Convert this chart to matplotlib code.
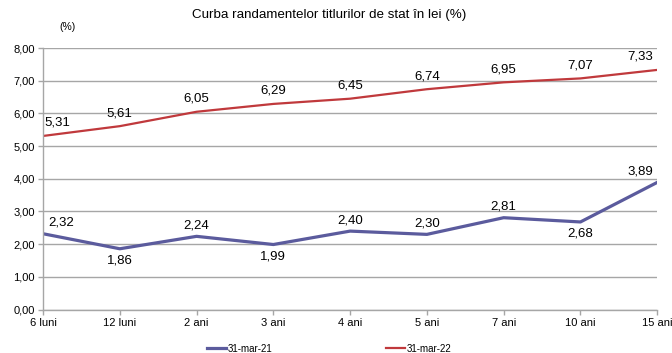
import numpy as np
import matplotlib.pyplot as plt

plt.rcParams['font.family'] = ['Liberation Sans', 'DejaVu Sans']

categories = ['6 luni', '12 luni', '2 ani', '3 ani', '4 ani', '5 ani', '7 ani', '10 ani', '15 ani']
yields_21 = [2.32, 1.86, 2.24, 1.99, 2.40, 2.30, 2.81, 2.68, 3.89]
yields_22 = [5.31, 5.61, 6.05, 6.29, 6.45, 6.74, 6.95, 7.07, 7.33]
# label below the point (True) or above (False) for the 2021 series
below_21 = [False, True, False, True, False, False, False, True, False]

col_21 = '#5b5b9d'
col_22 = '#c0393c'


def fmt(v):
    return '{:.2f}'.format(v).replace('.', ',')


fig = plt.figure(figsize=(6.72, 3.53), dpi=100)
ax = fig.add_axes([0.064, 0.123, 0.914, 0.741])

x = np.arange(len(categories))
last = len(categories) - 1
ax.plot(x, yields_21, color=col_21, lw=2.3, label='31-mar-21')
ax.plot(x, yields_22, color=col_22, lw=1.6, label='31-mar-22')

# shift end labels sideways so they stay inside the plot
def shift(i, first_dx):
    if i == 0:
        return first_dx
    if i == last:
        return -0.22
    return 0

for i, v in enumerate(yields_22):
    ax.annotate(fmt(v), (x[i] + shift(i, 0.19), v), xytext=(0, 13),
                textcoords='offset pixels', ha='center', va='center', fontsize=9.5)

for i, v in enumerate(yields_21):
    dy = -12 if below_21[i] else 11
    ax.annotate(fmt(v), (x[i] + shift(i, 0.24), v), xytext=(0, dy),
                textcoords='offset pixels', ha='center', va='center', fontsize=9.5)

ax.set_xlim(0, last)
ax.set_ylim(0, 8)
yt = np.arange(0, 9, 1)
ax.set_yticks(yt)
ax.set_yticklabels([fmt(t) for t in yt], fontsize=8)
ax.set_xticks(x)
ax.set_xticklabels(categories, fontsize=8)
ax.grid(axis='y', color='#a6a6a6', lw=1)
ax.set_axisbelow(True)
for s in ['top', 'right']:
    ax.spines[s].set_visible(False)
for s in ['left', 'bottom']:
    ax.spines[s].set_color('#a6a6a6')
    ax.spines[s].set_linewidth(1)
ax.tick_params(axis='both', color='#a6a6a6', length=3.5, width=1, pad=2.5)

fig.text(0.49, 0.957, 'Curba randamentelor titlurilor de stat în lei (%)',
         ha='center', va='center', fontsize=9.6)
fig.text(0.1, 0.923, '(%)', ha='center', va='center', fontsize=7.5)

fig.legend(loc='center', bbox_to_anchor=(0.49, 0.012), ncol=2, frameon=False,
           fontsize=7, handlelength=1.9, handletextpad=0.2, columnspacing=11.7,
           borderpad=0)

fig.savefig('out.png', dpi=100)
